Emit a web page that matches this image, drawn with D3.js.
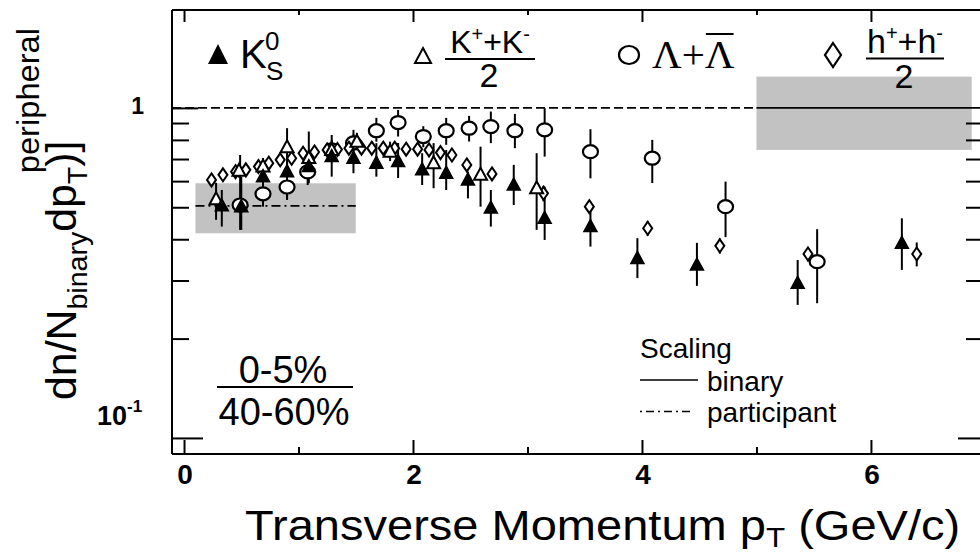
<!DOCTYPE html>
<html><head><meta charset="utf-8">
<script src="https://cdn.jsdelivr.net/npm/d3@7"></script>
<style>
html,body{margin:0;padding:0;background:#fff;}
svg{display:block;font-family:"Liberation Sans",Arial,Helvetica,sans-serif;}
</style></head><body>
<svg id="chart" width="980" height="553"></svg>
<script>
// Central (0-5%) over peripheral (40-60%) ratio, scaled by N_binary, versus pT

// K0_S (filled triangles)
const k0sPt  = [0.33, 0.50, 0.69, 0.90, 1.09, 1.29, 1.48, 1.68, 1.87, 2.08, 2.29, 2.48, 2.68, 2.88, 3.15, 3.55, 3.96, 4.48, 5.36, 6.27];
const k0sVal = [0.505, 0.502, 0.619, 0.641, 0.664, 0.712, 0.704, 0.680, 0.688, 0.649, 0.634, 0.605, 0.497, 0.584, 0.463, 0.437, 0.350, 0.334, 0.294, 0.389];
const k0sLo  = [0.437, 0.427, 0.502, 0.530, 0.591, 0.619, 0.634, 0.619, 0.613, 0.584, 0.564, 0.532, 0.437, 0.508, 0.398, 0.380, 0.305, 0.289, 0.253, 0.323];
const k0sHi  = [0.564, 0.619, 0.688, 0.720, 0.848, 0.828, 0.858, 0.782, 0.783, 0.729, 0.746, 0.641, 0.564, 0.672, 0.577, 0.502, 0.403, 0.390, 0.346, 0.463];

// (K+ + K-)/2 (open triangles)
const kchPt  = [0.28, 0.48, 0.69, 0.90, 1.09, 1.29, 1.51, 1.80, 2.18, 2.59, 3.08];
const kchVal = [0.529, 0.645, 0.664, 0.760, 0.705, 0.746, 0.790, 0.737, 0.680, 0.627, 0.571];
const kchLo  = [0.458, 0.615, 0.625, 0.650, 0.665, 0.705, 0.745, 0.690, 0.571, 0.502, 0.427];
const kchHi  = [0.593, 0.675, 0.705, 0.868, 0.745, 0.790, 0.840, 0.790, 0.782, 0.763, 0.729];

// Lambda + anti-Lambda (open circles)
const lamPt  = [0.49, 0.69, 0.90, 1.08, 1.29, 1.48, 1.68, 1.87, 2.09, 2.29, 2.49, 2.68, 2.89, 3.15, 3.55, 4.09, 4.73, 5.53];
const lamVal = [0.508, 0.549, 0.576, 0.640, 0.746, 0.783, 0.853, 0.903, 0.819, 0.853, 0.868, 0.878, 0.853, 0.858, 0.737, 0.704, 0.502, 0.342];
const lamLo  = [0.427, 0.520, 0.526, 0.584, 0.700, 0.740, 0.790, 0.819, 0.760, 0.773, 0.791, 0.782, 0.755, 0.712, 0.612, 0.592, 0.406, 0.256];
const lamHi  = [0.720, 0.580, 0.598, 0.671, 0.800, 0.830, 0.933, 0.986, 0.880, 0.933, 0.946, 0.975, 0.959, 0.998, 0.862, 0.800, 0.598, 0.429];

// (h+ + h-)/2 (open diamonds)
const hPt  = [0.24, 0.34, 0.45, 0.54, 0.65, 0.74, 0.84, 0.94, 1.04, 1.14, 1.25, 1.34, 1.44, 1.55, 1.64, 1.74, 1.84, 1.94, 2.04, 2.14, 2.24, 2.34, 2.47, 2.69, 3.14, 3.54, 4.05, 4.68, 5.45, 6.40];
const hVal = [0.605, 0.627, 0.641, 0.649, 0.664, 0.680, 0.696, 0.704, 0.729, 0.735, 0.746, 0.748, 0.755, 0.755, 0.755, 0.755, 0.755, 0.750, 0.750, 0.746, 0.732, 0.720, 0.672, 0.631, 0.551, 0.502, 0.432, 0.382, 0.361, 0.361];
const hErr = [0.020, 0.020, 0.020, 0.020, 0.020, 0.020, 0.020, 0.020, 0.020, 0.020, 0.020, 0.020, 0.020, 0.020, 0.020, 0.020, 0.020, 0.020, 0.020, 0.020, 0.020, 0.020, 0.020, 0.020, 0.030, 0.020, 0.022, 0.020, 0.018, 0.030];

// Scaling references and their systematic bands
const binaryLevel = 1.0;
const binaryBand = [0.746, 1.244];
const binaryBandPt = [5.0, 6.88];
const participantLevel = 0.505;
const participantBand = [0.417, 0.591];
const participantBandPt = [0.1, 1.5];

// Axis ticks
const xMajor = [0, 2, 4, 6];
const xMinor = [1, 3, 5];
const yMinor = [0.2, 0.3, 0.4, 0.5, 0.6, 0.7, 0.8, 0.9];

const svg = d3.select("#chart");
const L = 172, R = 982, T = 10, B = 454;
const x = d3.scaleLinear().domain([-0.105, 6.97]).range([L, R]);
const y = d3.scaleLog().domain([0.0894, 1.98]).range([B, T]);

// systematic bands
svg.append("rect").attr("fill", "#c2c2c2")
  .attr("x", x(binaryBandPt[0])).attr("width", x(binaryBandPt[1]) - x(binaryBandPt[0]))
  .attr("y", y(binaryBand[1])).attr("height", y(binaryBand[0]) - y(binaryBand[1]));
svg.append("rect").attr("fill", "#c2c2c2")
  .attr("x", x(participantBandPt[0])).attr("width", x(participantBandPt[1]) - x(participantBandPt[0]))
  .attr("y", y(participantBand[1])).attr("height", y(participantBand[0]) - y(participantBand[1]));

// reference lines
svg.append("line").attr("x1", L).attr("x2", x(binaryBandPt[0]))
  .attr("y1", y(binaryLevel)).attr("y2", y(binaryLevel))
  .attr("stroke", "#000").attr("stroke-width", 1.6).attr("stroke-dasharray", "9,4");
svg.append("line").attr("x1", x(binaryBandPt[0])).attr("x2", R)
  .attr("y1", y(binaryLevel)).attr("y2", y(binaryLevel))
  .attr("stroke", "#000").attr("stroke-width", 1.8);
svg.append("line").attr("x1", x(participantBandPt[0])).attr("x2", x(participantBandPt[1]))
  .attr("y1", y(participantLevel)).attr("y2", y(participantLevel))
  .attr("stroke", "#000").attr("stroke-width", 1.6).attr("stroke-dasharray", "9,4,2,4");

// frame and axes
const axisG = svg.append("g").attr("stroke", "#000").attr("stroke-width", 2);
axisG.append("line").attr("x1", L).attr("x2", 980).attr("y1", T).attr("y2", T);
axisG.append("line").attr("x1", L).attr("x2", 980).attr("y1", B).attr("y2", B);
axisG.append("line").attr("x1", L).attr("x2", L).attr("y1", T).attr("y2", B);

function styleAxis(g) {
  g.select(".domain").remove();
  g.selectAll(".tick line").attr("stroke", "#000").attr("stroke-width", 2);
  g.selectAll(".tick text").remove();
}
svg.append("g").attr("transform", `translate(0,${B})`)
  .call(d3.axisBottom(x).tickValues(xMajor).tickSize(-14).tickSizeOuter(0)).call(styleAxis);
svg.append("g").attr("transform", `translate(0,${B})`)
  .call(d3.axisBottom(x).tickValues(xMinor).tickSize(-7).tickSizeOuter(0)).call(styleAxis);
svg.append("g").attr("transform", `translate(0,${T})`)
  .call(d3.axisTop(x).tickValues(xMajor).tickSize(-12).tickSizeOuter(0)).call(styleAxis);
svg.append("g").attr("transform", `translate(0,${T})`)
  .call(d3.axisTop(x).tickValues(xMinor).tickSize(-5).tickSizeOuter(0)).call(styleAxis);
svg.append("g").attr("transform", `translate(${L},0)`)
  .call(d3.axisLeft(y).tickValues(yMinor).tickSize(-17).tickSizeOuter(0)).call(styleAxis);
svg.append("g").attr("transform", `translate(${L},0)`)
  .call(d3.axisLeft(y).tickValues([1]).tickSize(-26).tickSizeOuter(0)).call(styleAxis);
svg.append("g").attr("transform", `translate(${L + 1},0)`)
  .call(d3.axisLeft(y).tickValues([0.1]).tickSize(-30).tickSizeOuter(0)).call(styleAxis);
svg.append("g").attr("transform", `translate(${R - 2},0)`)
  .call(d3.axisRight(y).tickValues(yMinor).tickSize(-14).tickSizeOuter(0)).call(styleAxis);
svg.append("g").attr("transform", `translate(${R - 2},0)`)
  .call(d3.axisRight(y).tickValues([0.1]).tickSize(-22).tickSizeOuter(0)).call(styleAxis);

// tick labels
svg.append("g").selectAll("text").data(xMajor).join("text")
  .attr("x", d => x(d) + 1).attr("y", 484).attr("text-anchor", "middle")
  .attr("font-weight", "bold").attr("font-size", 28).text(d => d);
svg.append("text").attr("x", 144).attr("y", y(1) + 6).attr("text-anchor", "end")
  .attr("font-weight", "bold").attr("font-size", 23).text("1");
const tenLbl = svg.append("text").attr("x", 97).attr("y", 425)
  .attr("font-weight", "bold").attr("font-size", 27);
tenLbl.append("tspan").text("10");
tenLbl.append("tspan").attr("font-size", 17).attr("dy", -13).text("-1");

// error bars
const bars = svg.append("g").attr("stroke", "#000").attr("stroke-width", 2);
function drawBars(pt, lo, hi) {
  bars.append("g").selectAll("line").data(pt).join("line")
    .attr("x1", d => x(d)).attr("x2", d => x(d))
    .attr("y1", (d, i) => y(lo[i])).attr("y2", (d, i) => y(hi[i]));
}
drawBars(lamPt, lamLo, lamHi);
drawBars(kchPt, kchLo, kchHi);
drawBars(k0sPt, k0sLo, k0sHi);
drawBars(hPt, hVal.map((v, i) => v - hErr[i]), hVal.map((v, i) => v + hErr[i]));

// markers
const triPath = "M0,-7L6.5,5L-6.5,5Z";
const diaPath = "M0,-6.5L4.5,0L0,6.5L-4.5,0Z";
const marks = svg.append("g");
marks.append("g").selectAll("ellipse").data(lamPt).join("ellipse")
  .attr("cx", d => x(d)).attr("cy", (d, i) => y(lamVal[i]))
  .attr("rx", 7.5).attr("ry", 6.5).attr("fill", "#fff").attr("stroke", "#000").attr("stroke-width", 2.2);
marks.append("g").selectAll("path").data(hPt).join("path")
  .attr("d", diaPath).attr("transform", (d, i) => `translate(${x(d)},${y(hVal[i])})`)
  .attr("fill", "#fff").attr("stroke", "#000").attr("stroke-width", 2);
marks.append("g").selectAll("path").data(kchPt).join("path")
  .attr("d", triPath).attr("transform", (d, i) => `translate(${x(d)},${y(kchVal[i])})`)
  .attr("fill", "#fff").attr("stroke", "#000").attr("stroke-width", 2);
marks.append("g").selectAll("path").data(k0sPt).join("path")
  .attr("d", triPath).attr("transform", (d, i) => `translate(${x(d)},${y(k0sVal[i])})`)
  .attr("fill", "#000").attr("stroke", "#000").attr("stroke-width", 1.5);

// legend row
const lg = svg.append("g");
lg.append("path").attr("d", "M0,-11L10,9L-10,9Z").attr("transform", "translate(218,55)").attr("fill", "#000");
lg.append("text").attr("x", 240).attr("y", 68).attr("font-size", 40).text("K");
lg.append("text").attr("x", 265).attr("y", 50).attr("font-size", 26).text("0");
lg.append("text").attr("x", 266).attr("y", 80).attr("font-size", 26).text("S");

lg.append("path").attr("d", "M0,-8L8,7L-8,7Z").attr("transform", "translate(423,56)")
  .attr("fill", "#fff").attr("stroke", "#000").attr("stroke-width", 2);
const kn = lg.append("text").attr("x", 490).attr("y", 53).attr("text-anchor", "middle").attr("font-size", 32);
kn.append("tspan").text("K");
kn.append("tspan").attr("font-size", 20).attr("dy", -12).text("+");
kn.append("tspan").attr("dy", 12).text("+K");
kn.append("tspan").attr("font-size", 20).attr("dy", -12).text("-");
lg.append("line").attr("x1", 445).attr("x2", 535).attr("y1", 59).attr("y2", 59).attr("stroke", "#000").attr("stroke-width", 2);
lg.append("text").attr("x", 489).attr("y", 87).attr("text-anchor", "middle").attr("font-size", 34).text("2");

lg.append("ellipse").attr("cx", 629).attr("cy", 55).attr("rx", 10).attr("ry", 9)
  .attr("fill", "#fff").attr("stroke", "#000").attr("stroke-width", 2.2);
const lamA = lg.append("text").attr("x", 652).attr("y", 68).attr("font-size", 41)
  .attr("font-family", "'Liberation Serif','Times New Roman',serif").text("\u039B+");
const lamB = lg.append("text").attr("y", 68).attr("font-size", 41)
  .attr("font-family", "'Liberation Serif','Times New Roman',serif").text("\u039B");
const wA = lamA.node().getComputedTextLength();
const wB = lamB.node().getComputedTextLength();
lamB.attr("x", 652 + wA);
lg.append("line").attr("x1", 652 + wA + 1).attr("x2", 652 + wA + wB - 1).attr("y1", 34).attr("y2", 34)
  .attr("stroke", "#000").attr("stroke-width", 2);

lg.append("path").attr("d", "M0,-12L8,0L0,12L-8,0Z").attr("transform", "translate(833,55)")
  .attr("fill", "#fff").attr("stroke", "#000").attr("stroke-width", 2.2);
const hn = lg.append("text").attr("x", 905).attr("y", 53).attr("text-anchor", "middle").attr("font-size", 34);
hn.append("tspan").text("h");
hn.append("tspan").attr("font-size", 20).attr("dy", -13).text("+");
hn.append("tspan").attr("dy", 13).text("+h");
hn.append("tspan").attr("font-size", 20).attr("dy", -13).text("-");
lg.append("line").attr("x1", 866).attr("x2", 944).attr("y1", 58.5).attr("y2", 58.5).attr("stroke", "#000").attr("stroke-width", 2);
lg.append("text").attr("x", 904).attr("y", 88).attr("text-anchor", "middle").attr("font-size", 34).text("2");

// centrality ratio label
svg.append("text").attr("x", 283).attr("y", 383).attr("text-anchor", "middle").attr("font-size", 38).text("0-5%");
svg.append("line").attr("x1", 217).attr("x2", 353).attr("y1", 387).attr("y2", 387).attr("stroke", "#000").attr("stroke-width", 2);
svg.append("text").attr("x", 284).attr("y", 425).attr("text-anchor", "middle").attr("font-size", 38).text("40-60%");

// scaling key
svg.append("text").attr("x", 640).attr("y", 358).attr("font-size", 28).text("Scaling");
svg.append("line").attr("x1", 640).attr("x2", 698).attr("y1", 380).attr("y2", 380).attr("stroke", "#000").attr("stroke-width", 1.6);
svg.append("text").attr("x", 707).attr("y", 391).attr("font-size", 28).text("binary");
svg.append("line").attr("x1", 640).attr("x2", 690).attr("y1", 411.5).attr("y2", 411.5).attr("stroke", "#000")
  .attr("stroke-width", 1.6).attr("stroke-dasharray", "2,4,8,4");
svg.append("text").attr("x", 707).attr("y", 422).attr("font-size", 28).text("participant");

// axis titles
const xt = svg.append("text").attr("transform", "translate(245,540) scale(1.12,1)").attr("font-size", 42);
xt.append("tspan").text("Transverse Momentum p");
xt.append("tspan").attr("font-size", 28).attr("dy", 7).text("T");
xt.append("tspan").attr("dy", -7).text(" (GeV/c)");

const yt = svg.append("text").attr("transform", "translate(76,400) rotate(-90) scale(1.02,1)").attr("font-size", 42);
yt.append("tspan").text("dn/N");
yt.append("tspan").attr("font-size", 28).attr("dy", 11).text("binary");
yt.append("tspan").attr("dy", -11).text("dp");
yt.append("tspan").attr("font-size", 28).attr("dy", 11).text("T");
yt.append("tspan").attr("dy", -11).text(")]");
yt.append("tspan").attr("font-size", 32).attr("dx", -32).attr("dy", -37).text("peripheral");
</script></body></html>
